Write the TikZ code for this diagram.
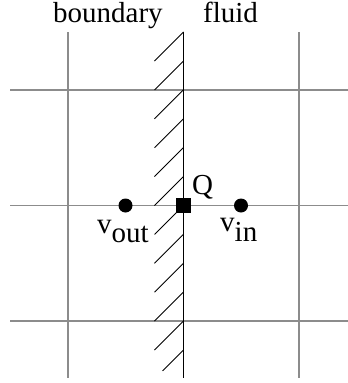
\documentclass[tikz,border=0pt]{standalone}
\usepackage{fontspec}
\setmainfont{Liberation Serif}
\begin{document}
\begin{tikzpicture}[x=1pt,y=-1pt,
  grid/.style={draw=black!45,line width=1.3pt},
  wall/.style={draw=black,line width=1.6pt},
  hatch/.style={draw=black,line width=0.9pt},
  pt/.style={circle,fill=black,inner sep=0pt,minimum size=14pt},
  sq/.style={rectangle,fill=black,inner sep=0pt,minimum size=15pt},
  lbl/.style={inner sep=0pt,font=\fontsize{29}{34}\selectfont}]
\useasboundingbox (0,0) rectangle (348,383);
% grid
\draw[grid] (10,90) -- (348,90);
\draw[grid] (10,205.5) -- (348,205.5);
\draw[grid] (10,321) -- (348,321);
\draw[grid] (68,32) -- (68,378);
\draw[grid] (299,32) -- (299,378);
% wall
\draw[wall] (183.5,32) -- (183.5,378);
\foreach \k in {0,...,10}{
  \draw[hatch] (183.5,{32+28.9*\k}) -- ++(-29,29);
}
\draw[hatch] (183.5,{32+28.9*11}) -- ++(-21,21);
% points
\node[pt] (vout) at (125.5,205.5) {};
\node[pt] (vin) at (241,205.5) {};
\node[sq] (Q) at (183.5,205.5) {};
% labels
\node[lbl,anchor=base west] (lb) at (53,22) {boundary};
\node[lbl,anchor=base west] (lf) at (203,22) {fluid};
\node[lbl,anchor=base west] (lq) at (192,194) {Q};
\node[lbl,anchor=base west] (lvo) at (97,233) {v\raisebox{-9pt}{out}};
\node[lbl,anchor=base west] (lvi) at (220,231) {v\raisebox{-10pt}{in}};
\end{tikzpicture}
\end{document}
